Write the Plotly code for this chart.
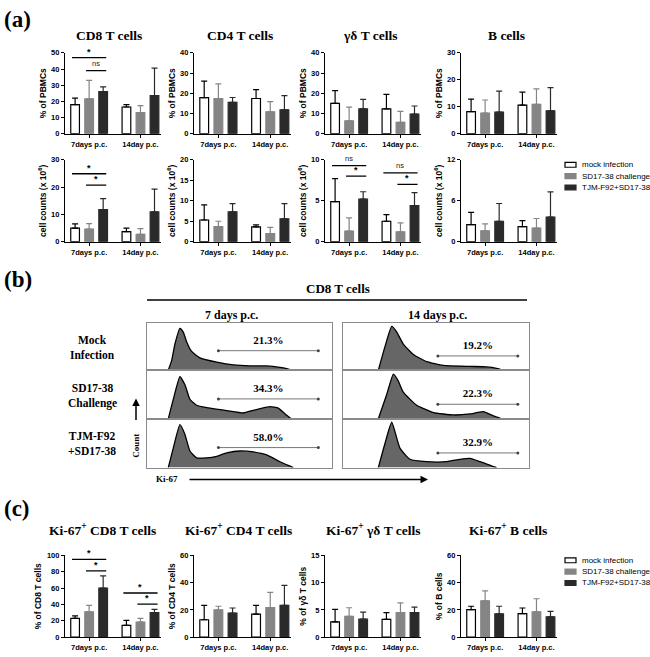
import plotly.graph_objects as go

W, H = 650, 657

# ---------------- data ----------------
groups = ["7days p.c.", "14day p.c."]
series_names = ["mock infection", "SD17-38 challenge", "TJM-F92+SD17-38"]

# (a) % of PBMCs  -> [series][7d, 14d]
cd8_pct_mean = [[18.0, 16.5], [21.5, 13.0], [26.0, 23.5]]
cd8_pct_top = [[22.0, 18.0], [33.0, 17.3], [29.0, 40.5]]
cd4_pct_mean = [[17.8, 17.4], [17.3, 10.8], [15.5, 11.8]]
cd4_pct_top = [[26.0, 21.8], [24.6, 15.9], [17.9, 18.8]]
gd_pct_mean = [[15.0, 12.3], [6.3, 5.6], [12.3, 9.7]]
gd_pct_top = [[21.3, 19.4], [13.1, 11.0], [17.0, 13.7]]
b_pct_mean = [[8.2, 10.6], [7.6, 10.9], [8.0, 8.5]]
b_pct_top = [[12.8, 15.4], [12.5, 16.6], [15.8, 17.1]]

# (a) cell counts (x 10^6)
cd8_cnt_mean = [[5.0, 3.7], [4.6, 2.7], [11.8, 10.9]]
cd8_cnt_top = [[6.5, 5.0], [6.6, 4.8], [15.8, 19.3]]
cd4_cnt_mean = [[5.3, 3.6], [3.7, 2.0], [7.3, 5.6]]
cd4_cnt_top = [[9.0, 4.1], [5.0, 3.5], [9.3, 9.3]]
gd_cnt_mean = [[4.9, 2.5], [1.3, 1.2], [5.2, 4.4]]
gd_cnt_top = [[7.7, 3.3], [2.9, 2.3], [6.1, 6.0]]
b_cnt_mean = [[2.5, 2.2], [1.6, 2.0], [3.0, 3.6]]
b_cnt_top = [[4.3, 3.1], [2.6, 3.4], [5.6, 7.3]]

# (c) Ki-67+ percentages
cd8_ki_mean = [[22.9, 14.5], [31.0, 18.5], [60.0, 30.0]]
cd8_ki_top = [[26.0, 20.5], [39.0, 23.0], [75.0, 34.0]]
cd4_ki_mean = [[12.8, 16.9], [20.0, 21.7], [17.6, 23.4]]
cd4_ki_top = [[23.4, 23.4], [22.7, 32.8], [21.4, 38.0]]
gd_ki_mean = [[2.8, 3.25], [3.8, 4.5], [3.3, 4.5]]
gd_ki_top = [[5.1, 4.5], [5.4, 6.3], [4.6, 5.5]]
b_ki_mean = [[20.2, 17.3], [26.7, 18.6], [17.1, 14.9]]
b_ki_top = [[22.7, 21.4], [34.0, 28.2], [22.7, 19.0]]

# y tick values
cd8_pct_ticks = [0, 10, 20, 30, 40, 50]
cd4_pct_ticks = [0, 10, 20, 30, 40]
gd_pct_ticks = [0, 10, 20, 30, 40]
b_pct_ticks = [0, 10, 20, 30]
cd8_cnt_ticks = [0, 10, 20, 30]
cd4_cnt_ticks = [0, 5, 10, 15, 20]
gd_cnt_ticks = [0, 5, 10]
b_cnt_ticks = [0, 6, 12]
cd8_ki_ticks = [0, 20, 40, 60, 80, 100]
cd4_ki_ticks = [0, 20, 40, 60]
gd_ki_ticks = [0, 5, 10, 15]
b_ki_ticks = [0, 20, 40, 60]

# significance marks: (group index, series from, series to, y level, label)
cd8_pct_sig = [(0, 0, 2, 47.0, "*"), (0, 1, 2, 39.0, "ns")]
cd8_cnt_sig = [(0, 0, 2, 24.9, "*"), (0, 1, 2, 20.7, "*")]
gd_cnt_sig = [(0, 0, 2, 9.3, "ns"), (0, 1, 2, 8.0, "*"), (1, 0, 2, 8.4, "ns"), (1, 1, 2, 7.0, "*")]
cd8_ki_sig = [(0, 0, 2, 95.0, "*"), (0, 1, 2, 81.0, "*"), (1, 0, 2, 54.0, "*"), (1, 1, 2, 40.5, "*")]

# (b) flow histograms: Ki-67 position (0-100) and relative count (0-1)
hist_rows = ["Mock<br>Infection", "SD17-38<br>Challenge", "TJM-F92<br>+SD17-38"]
h7_mock_x = [11.5, 13.3, 15.1, 17.8, 19.6, 21.4, 24.0, 28.6, 37.7, 46.7, 55.7, 64.7, 71.9, 76.0, 79.0]
h7_mock_y = [0.0, 0.2, 0.55, 0.88, 0.8, 0.6, 0.4, 0.26, 0.17, 0.11, 0.09, 0.09, 0.06, 0.03, 0.0]
h7_sd_x = [11.5, 14.2, 17.8, 20.5, 23.2, 26.8, 32.3, 43.1, 52.0, 58.0, 66.5, 71.0, 74.6, 78.0]
h7_sd_y = [0.0, 0.4, 0.87, 0.7, 0.4, 0.28, 0.23, 0.17, 0.12, 0.18, 0.25, 0.22, 0.1, 0.0]
h7_tjm_x = [11.5, 14.2, 17.8, 20.5, 23.2, 26.8, 32.3, 37.7, 43.1, 50.3, 57.5, 64.7, 71.9, 77.3, 79.1]
h7_tjm_y = [0.0, 0.4, 0.88, 0.68, 0.34, 0.2, 0.2, 0.23, 0.3, 0.34, 0.32, 0.26, 0.12, 0.03, 0.0]
h14_mock_x = [19.0, 22.6, 26.2, 28.9, 32.4, 37.8, 45.0, 53.9, 68.3, 77.2, 82.6, 86.2]
h14_mock_y = [0.0, 0.5, 0.92, 0.8, 0.55, 0.33, 0.18, 0.1, 0.08, 0.07, 0.04, 0.0]
h14_sd_x = [19.0, 23.5, 27.1, 29.7, 32.4, 39.6, 48.6, 59.3, 68.3, 75.4, 80.8, 85.3]
h14_sd_y = [0.0, 0.5, 0.92, 0.78, 0.55, 0.28, 0.13, 0.08, 0.1, 0.15, 0.06, 0.0]
h14_tjm_x = [19.0, 22.6, 26.2, 30.6, 36.0, 45.0, 55.7, 62.9, 68.3, 73.7, 80.8, 82.6]
h14_tjm_y = [0.0, 0.5, 0.93, 0.4, 0.17, 0.12, 0.12, 0.17, 0.19, 0.12, 0.02, 0.0]
gate_7d = [38.6, 92.6]
gate_14d = [51.0, 94.0]
pct_7d = ["21.3%", "34.3%", "58.0%"]
pct_14d = ["19.2%", "22.3%", "32.9%"]

# ---------------- styling ----------------
fill_cols = ["white", "#858585", "#2a2a2a"]
line_cols = ["black", "#858585", "#2a2a2a"]
SERIF = "Liberation Serif, Times New Roman, serif"
SANS = "Liberation Sans, Arial, sans-serif"

def px(x):
    return x / W

def py(y):
    return 1 - y / H

def note(x, y, text, font, **kw):
    d = dict(xref="paper", yref="paper", x=px(x), y=py(y), text=text, showarrow=False,
             xanchor="center", yanchor="middle", font=font)
    d.update(kw)
    return d

cols_px = [(65, 161), (194, 291), (325, 421), (461, 557)]
rows_px = [(49.5, 131.5), (158, 241), (559, 642)]
XR = [-0.47, 1.40]
BARGAP = 0.18
SLOT = (1 - BARGAP) / 3

panels = [
    (0, 0, cd8_pct_mean, cd8_pct_top, cd8_pct_ticks, "% of PBMCs", cd8_pct_sig),
    (0, 1, cd4_pct_mean, cd4_pct_top, cd4_pct_ticks, "% of PBMCs", []),
    (0, 2, gd_pct_mean, gd_pct_top, gd_pct_ticks, "% of PBMCs", []),
    (0, 3, b_pct_mean, b_pct_top, b_pct_ticks, "% of PBMCs", []),
    (1, 0, cd8_cnt_mean, cd8_cnt_top, cd8_cnt_ticks, "cell counts (x 10<sup>6</sup>)", cd8_cnt_sig),
    (1, 1, cd4_cnt_mean, cd4_cnt_top, cd4_cnt_ticks, "cell counts (x 10<sup>6</sup>)", []),
    (1, 2, gd_cnt_mean, gd_cnt_top, gd_cnt_ticks, "cell counts (x 10<sup>6</sup>)", gd_cnt_sig),
    (1, 3, b_cnt_mean, b_cnt_top, b_cnt_ticks, "cell counts (x 10<sup>6</sup>)", []),
    (2, 0, cd8_ki_mean, cd8_ki_top, cd8_ki_ticks, "% of CD8 T cells", cd8_ki_sig),
    (2, 1, cd4_ki_mean, cd4_ki_top, cd4_ki_ticks, "% of CD4 T cells", []),
    (2, 2, gd_ki_mean, gd_ki_top, gd_ki_ticks, "% of γδ T cells", []),
    (2, 3, b_ki_mean, b_ki_top, b_ki_ticks, "% of B cells", []),
]

fig = go.Figure()
layout = {}
shapes = []
annotations = []

for n, (r, c, mean, top, ticks, ytitle, sig) in enumerate(panels, start=1):
    xa, ya = f"x{n}", f"y{n}"
    for s in range(3):
        fig.add_trace(go.Bar(
            x=groups, y=mean[s], name=series_names[s], showlegend=False,
            xaxis=xa, yaxis=ya,
            marker=dict(color=fill_cols[s], line=dict(color=line_cols[s], width=1.2)),
            error_y=dict(type="data", symmetric=False,
                         array=[top[s][g] - mean[s][g] for g in range(2)],
                         arrayminus=[0, 0], color=line_cols[s], thickness=1.2, width=3),
        ))
    x0, x1 = cols_px[c]
    y0, y1 = rows_px[r]
    layout[f"xaxis{n}"] = dict(
        domain=[px(x0), px(x1)], anchor=ya, type="category", range=XR,
        showline=True, linecolor="black", linewidth=1.2, ticks="outside", ticklen=3,
        tickwidth=1, tickcolor="black", showgrid=False, zeroline=False,
        tickfont=dict(family=SANS, size=7.5, color="black", weight="bold"),
    )
    layout[f"yaxis{n}"] = dict(
        domain=[py(y1), py(y0)], anchor=xa, range=[0, ticks[-1]], tickvals=ticks,
        showline=True, linecolor="black", linewidth=1.2, ticks="outside", ticklen=3,
        tickwidth=1, tickcolor="black", showgrid=False, zeroline=False,
        tickfont=dict(family=SANS, size=7.5, color="black", weight="bold"),
        title=dict(text=ytitle, standoff=3,
                   font=dict(family=SANS, size=8.5, color="black", weight="bold")),
    )
    for (g, s0, s1, yv, lab) in sig:
        xs0 = g + (s0 - 1) * SLOT - 0.06
        xs1 = g + (s1 - 1) * SLOT + 0.06
        shapes.append(dict(type="line", xref=xa, yref=ya, x0=xs0, x1=xs1, y0=yv, y1=yv,
                           line=dict(color="black", width=1.3)))
        annotations.append(dict(xref=xa, yref=ya, x=(xs0 + xs1) / 2, y=yv, text=lab,
                                showarrow=False, xanchor="center", yanchor="bottom",
                                yshift=-1 if lab == "*" else 1,
                                font=dict(family=SANS, size=9 if lab == "*" else 7.5,
                                          color="black" if lab == "*" else "#222",
                                          weight="bold" if lab == "*" else "normal")))

# subplot titles
a_titles = ["CD8 T cells", "CD4 T cells", "γδ T cells", "B cells"]
c_titles = ["Ki-67<sup>+</sup> CD8 T cells", "Ki-67<sup>+</sup> CD4 T cells",
            "Ki-67<sup>+</sup> γδ T cells", "Ki-67<sup>+</sup> B cells"]
a_title_x = [109, 240, 370, 506]
c_title_x = [102, 238, 373, 508]
for i in range(4):
    annotations.append(note(a_title_x[i], 32, f"<b>{a_titles[i]}</b>",
                            dict(family=SERIF, size=13.5, color="black")))
    annotations.append(note(c_title_x[i], 533, f"<b>{c_titles[i]}</b>",
                            dict(family=SERIF, size=13.5, color="black")))

# panel letters
for lab, yy in [("(a)", 16), ("(b)", 279), ("(c)", 512)]:
    annotations.append(note(2, yy, f"<b>{lab}</b>", dict(family=SERIF, size=23, color="black"),
                            xanchor="left"))

# manual legends
for ly in [163, 564]:
    for s in range(3):
        yc = ly + s * 11.5
        shapes.append(dict(type="rect", xref="paper", yref="paper",
                           x0=px(565), x1=px(576), y0=py(yc + 2.5), y1=py(yc - 2.5),
                           fillcolor=fill_cols[s], line=dict(color=line_cols[s], width=1.2)))
        annotations.append(note(580, yc, series_names[s], dict(family=SANS, size=8, color="black"),
                                xanchor="left"))

# ---------------- (b) histograms ----------------
box_cols = [(147, 332), (343, 529)]
box_rows = [(323, 371.3), (371.3, 420.6), (420.6, 470)]
hist_data = [
    [(h7_mock_x, h7_mock_y), (h7_sd_x, h7_sd_y), (h7_tjm_x, h7_tjm_y)],
    [(h14_mock_x, h14_mock_y), (h14_sd_x, h14_sd_y), (h14_tjm_x, h14_tjm_y)],
]
gates = [gate_7d, gate_14d]
gate_h = [0.41, 0.30]
lab_h = [0.6, 0.5]
pcts = [pct_7d, pct_14d]
n = len(panels)
for ci in range(2):
    for ri in range(3):
        n += 1
        xa, ya = f"x{n}", f"y{n}"
        hx, hy = hist_data[ci][ri]
        fig.add_trace(go.Scatter(x=hx, y=hy, xaxis=xa, yaxis=ya, mode="lines", fill="tozeroy",
                                 fillcolor="#666666", line=dict(color="black", width=1.3, shape="spline",
                                                                smoothing=0.45),
                                 showlegend=False, hoverinfo="skip"))
        fig.add_trace(go.Scatter(x=gates[ci], y=[gate_h[ci]] * 2, xaxis=xa, yaxis=ya,
                                 mode="lines+markers", line=dict(color="#777", width=1),
                                 marker=dict(size=3, color="#444"), showlegend=False, hoverinfo="skip"))
        fig.add_trace(go.Scatter(x=[sum(gates[ci]) / 2], y=[lab_h[ci]], xaxis=xa, yaxis=ya,
                                 mode="text", text=[f"<b>{pcts[ci][ri]}</b>"], cliponaxis=False,
                                 textfont=dict(family=SERIF, size=11, color="black"),
                                 showlegend=False, hoverinfo="skip"))
        bx0, bx1 = box_cols[ci]
        by0, by1 = box_rows[ri]
        layout[f"xaxis{n}"] = dict(domain=[px(bx0), px(bx1)], anchor=ya, range=[0, 100],
                                   showline=True, mirror=True, linecolor="#8a8a8a", linewidth=1.3,
                                   showticklabels=False, ticks="", showgrid=False, zeroline=False)
        layout[f"yaxis{n}"] = dict(domain=[py(by1), py(by0)], anchor=xa, range=[0, 1.0],
                                   showline=True, mirror=True, linecolor="#8a8a8a", linewidth=1.3,
                                   showticklabels=False, ticks="", showgrid=False, zeroline=False)

# (b) header and labels
annotations.append(note(338, 288, "<b>CD8 T cells</b>", dict(family=SERIF, size=13, color="black")))
shapes.append(dict(type="line", xref="paper", yref="paper", x0=px(147), x1=px(527), y0=py(300), y1=py(300),
                   line=dict(color="black", width=1.5)))
for txt, xx in [("7 days p.c.", 231), ("14 days p.c.", 437)]:
    annotations.append(note(xx, 315, f"<b>{txt}</b>", dict(family=SERIF, size=12, color="black")))
row_label_y = [348, 397, 446]
for ri in range(3):
    annotations.append(note(92, row_label_y[ri], f"<b>{hist_rows[ri]}</b>",
                            dict(family=SERIF, size=11.5, color="black")))
annotations.append(note(136, 448, "<b>Count</b>", dict(family=SERIF, size=9, color="black"), textangle=-90))
annotations.append(dict(xref="paper", yref="paper", x=px(136), y=py(400), ax=0, ay=23, text="",
                        showarrow=True, arrowhead=2, arrowsize=1, arrowwidth=1.5, arrowcolor="black"))
annotations.append(note(167, 482, "<b>Ki-67</b>", dict(family=SERIF, size=9, color="black")))
annotations.append(dict(xref="paper", yref="paper", x=px(428), y=py(482), ax=-240, ay=0, text="",
                        showarrow=True, arrowhead=2, arrowsize=1, arrowwidth=1.5, arrowcolor="black"))

fig.update_layout(
    width=W, height=H, margin=dict(l=0, r=0, t=0, b=0),
    paper_bgcolor="white", plot_bgcolor="white",
    barmode="group", bargap=BARGAP, bargroupgap=0.38,
    showlegend=False, shapes=shapes, annotations=annotations,
    **layout,
)
fig.write_html("out.html", config={"displayModeBar": False},
               post_script="document.body.style.margin='0';document.body.style.overflow='hidden';")
